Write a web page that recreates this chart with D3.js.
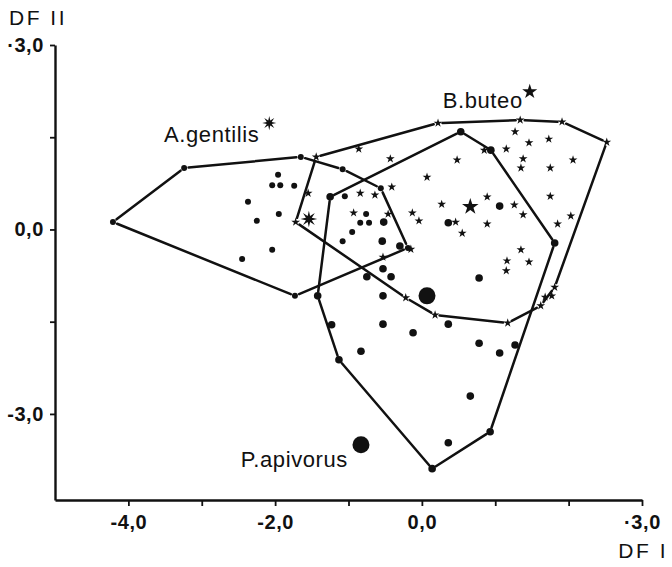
<!DOCTYPE html>
<html>
<head>
<meta charset="utf-8">
<script src="https://cdn.jsdelivr.net/npm/d3@7"></script>
<style>
  body { margin: 0; background: #fff; }
  text { font-family: "Liberation Sans", Arial, sans-serif; fill: #111; }
</style>
</head>
<body>
<div id="chart"></div>
<script>
// DF I / DF II scores
var gentilisHull = [[-4.21,0.12],[-3.24,1.00],[-1.65,1.18],[-1.08,0.98],[-0.56,0.67],[-0.19,-0.30],[-1.73,-1.08]];
var gentilisInner = [[-1.96,0.89],[-2.04,0.72],[-1.93,0.72],[-1.74,0.71],[-2.37,0.45],[-1.95,0.25],[-2.25,0.14],
    [-2.04,-0.33],[-2.45,-0.48],[-1.05,0.54],[-0.76,0.25],[-0.84,0.11],[-0.72,0.11],[-0.95,-0.04],[-1.08,-0.19]];

var buteoHull = [[-1.72,0.12],[-1.44,1.18],[0.22,1.73],[1.34,1.78],[1.91,1.75],[2.52,1.42],[1.81,-0.94],
    [1.62,-1.24],[1.17,-1.52],[0.18,-1.39],[-0.22,-1.11]];
var buteoInner = [[-1.55,0.59],[-0.86,1.31],[-0.43,1.15],[0.07,0.85],[-0.41,0.69],[-0.84,0.59],[-0.64,0.56],
    [-0.93,0.27],[-0.46,0.25],[-0.13,0.27],[-0.04,0.14],[-0.15,-0.32],[-0.53,-0.45],[1.27,1.59],[1.46,1.41],
    [1.73,1.47],[1.15,1.31],[0.85,1.29],[0.48,1.13],[1.38,1.15],[2.06,1.13],[1.35,1.00],[1.75,1.00],[1.75,0.54],
    [0.89,0.53],[0.27,0.41],[1.26,0.40],[1.38,0.24],[2.03,0.22],[0.46,0.12],[0.89,0.09],[1.85,0.09],[0.55,-0.06],
    [1.35,-0.33],[1.16,-0.51],[1.46,-0.53],[1.15,-0.67],[1.68,-1.10],[1.77,-1.08]];

var apivorusHull = [[-1.25,0.53],[0.53,1.59],[0.94,1.29],[1.81,-0.22],[0.93,-3.29],[0.14,-3.89],[-1.13,-2.12],[-1.42,-1.08]];
var apivorusInner = [[-0.52,0.12],[-0.54,-0.19],[-0.30,-0.27],[-0.53,-0.64],[-0.75,-0.77],[-0.42,-0.77],[-0.53,-1.08],
    [-1.23,-1.55],[-0.53,-1.54],[0.36,-1.54],[-0.12,-1.68],[0.78,-1.85],[1.06,-2.01],[1.27,-1.88],[-0.83,-1.98],
    [0.66,-2.71],[0.36,-3.47],[0.36,0.11],[1.06,0.38],[0.78,-0.79]];

// group centroids (gentilis, buteo, apivorus)
var centroidX = [-1.54, 0.66, 0.07];
var centroidY = [0.17, 0.37, -1.08];

// species labels with their key symbol
var speciesNames = ["A.gentilis", "B.buteo", "P.apivorus"];
var keyX = [-2.08, 1.47, -0.83];
var keyY = [1.73, 2.24, -3.50];

var xTicks = [-4, -3, -2, -1, 0, 1, 2, 3];
var xTickLabels = ["-4,0", "", "-2,0", "", "0,0", "", "", "\u00b73,0"];
var yTicks = [3, 1.5, 0, -1.5, -3];
var yTickLabels = ["\u00b73,0", "", "0,0", "", "-3,0"];

var width = 672, height = 567;

var svg = d3.select("#chart").append("svg")
    .attr("width", width).attr("height", height);

var x = d3.scaleLinear().domain([-5, 3]).range([55, 642]);
var y = d3.scaleLinear().domain([-4.4, 3]).range([500, 45]);

// axes
var xAxis = svg.append("g")
    .attr("transform", "translate(0," + y(-4.4) + ")")
    .call(d3.axisBottom(x).tickValues(xTicks).tickSize(6).tickSizeOuter(0).tickPadding(9)
        .tickFormat(function(d, i){ return xTickLabels[i]; }));
var yAxis = svg.append("g")
    .attr("transform", "translate(" + x(-5) + ",0)")
    .call(d3.axisLeft(y).tickValues(yTicks).tickSize(5).tickSizeOuter(0).tickPadding(6)
        .tickFormat(function(d, i){ return yTickLabels[i]; }));
[xAxis, yAxis].forEach(function(a){
    a.select(".domain").attr("stroke", "#111").attr("stroke-width", 2.4);
    a.selectAll(".tick line").attr("stroke", "#111").attr("stroke-width", 1.8);
    a.selectAll("text").attr("font-size", "20px").attr("fill", "#111").attr("font-weight", "bold")
        .attr("font-family", "Liberation Sans, Arial, sans-serif").attr("letter-spacing", "0.6px");
});

svg.append("text").text("DF II").attr("x", 9).attr("y", 25)
    .attr("font-size", "21px").attr("letter-spacing", "2.5px");
svg.append("text").text("DF I").attr("x", 668).attr("y", 558)
    .attr("text-anchor", "end").attr("font-size", "21px").attr("letter-spacing", "2.5px");

// hull outlines, each edge stops a little short of its end points
function drawHull(pts){
    var p = pts.map(function(d){ return [x(d[0]), y(d[1])]; });
    var g = svg.append("g").attr("stroke", "#111").attr("stroke-width", 2.5).attr("stroke-linecap", "round");
    p.forEach(function(a, i){
        var b = p[(i + 1) % p.length];
        var dx = b[0] - a[0], dy = b[1] - a[1], L = Math.hypot(dx, dy), k = 4.5 / L;
        g.append("line")
            .attr("x1", a[0] + dx * k).attr("y1", a[1] + dy * k)
            .attr("x2", b[0] - dx * k).attr("y2", b[1] - dy * k);
    });
}
drawHull(gentilisHull);
drawHull(buteoHull);
drawHull(apivorusHull);

// 8-pointed asterisk symbol
var asterisk = {
    draw: function(ctx, size){
        var r = Math.sqrt(size), n = 8;
        for (var i = 0; i < n * 2; i++){
            var a = Math.PI * i / n - Math.PI / 2;
            var rr = i % 2 ? r * 0.38 : r;
            if (i === 0) ctx.moveTo(rr * Math.cos(a), rr * Math.sin(a));
            else ctx.lineTo(rr * Math.cos(a), rr * Math.sin(a));
        }
        ctx.closePath();
    }
};

function dots(data, r){
    svg.append("g").selectAll("circle").data(data).enter().append("circle")
        .attr("cx", function(d){ return x(d[0]); })
        .attr("cy", function(d){ return y(d[1]); })
        .attr("r", r).attr("fill", "#111");
}
function stars(data, size){
    svg.append("g").selectAll("path").data(data).enter().append("path")
        .attr("d", d3.symbol().type(d3.symbolStar).size(size))
        .attr("transform", function(d){ return "translate(" + x(d[0]) + "," + y(d[1]) + ")"; })
        .attr("fill", "#111");
}

dots(gentilisHull.concat(gentilisInner), 3);
dots(apivorusHull.concat(apivorusInner), 3.8);
stars(buteoHull.concat(buteoInner), 24);

// centroids
svg.append("path").attr("d", d3.symbol().type(asterisk).size(70)())
    .attr("transform", "translate(" + x(centroidX[0]) + "," + y(centroidY[0]) + ")").attr("fill", "#111");
svg.append("path").attr("d", d3.symbol().type(d3.symbolStar).size(85)())
    .attr("transform", "translate(" + x(centroidX[1]) + "," + y(centroidY[1]) + ")").attr("fill", "#111");
svg.append("circle").attr("cx", x(centroidX[2])).attr("cy", y(centroidY[2])).attr("r", 8.5).attr("fill", "#111");

// key symbols next to species names
svg.append("path").attr("d", d3.symbol().type(asterisk).size(50)())
    .attr("transform", "translate(" + x(keyX[0]) + "," + y(keyY[0]) + ")").attr("fill", "#111");
svg.append("path").attr("d", d3.symbol().type(d3.symbolStar).size(70)())
    .attr("transform", "translate(" + x(keyX[1]) + "," + y(keyY[1]) + ")").attr("fill", "#111");
svg.append("circle").attr("cx", x(keyX[2])).attr("cy", y(keyY[2])).attr("r", 8.5).attr("fill", "#111");

var labelOffset = [[-10, 19], [-7, 16], [-13, 22]];
speciesNames.forEach(function(name, i){
    svg.append("text").text(name)
        .attr("x", x(keyX[i]) + labelOffset[i][0])
        .attr("y", y(keyY[i]) + labelOffset[i][1])
        .attr("text-anchor", "end")
        .attr("font-size", "22px")
        .attr("letter-spacing", "0.6px");
});
</script>
</body>
</html>
